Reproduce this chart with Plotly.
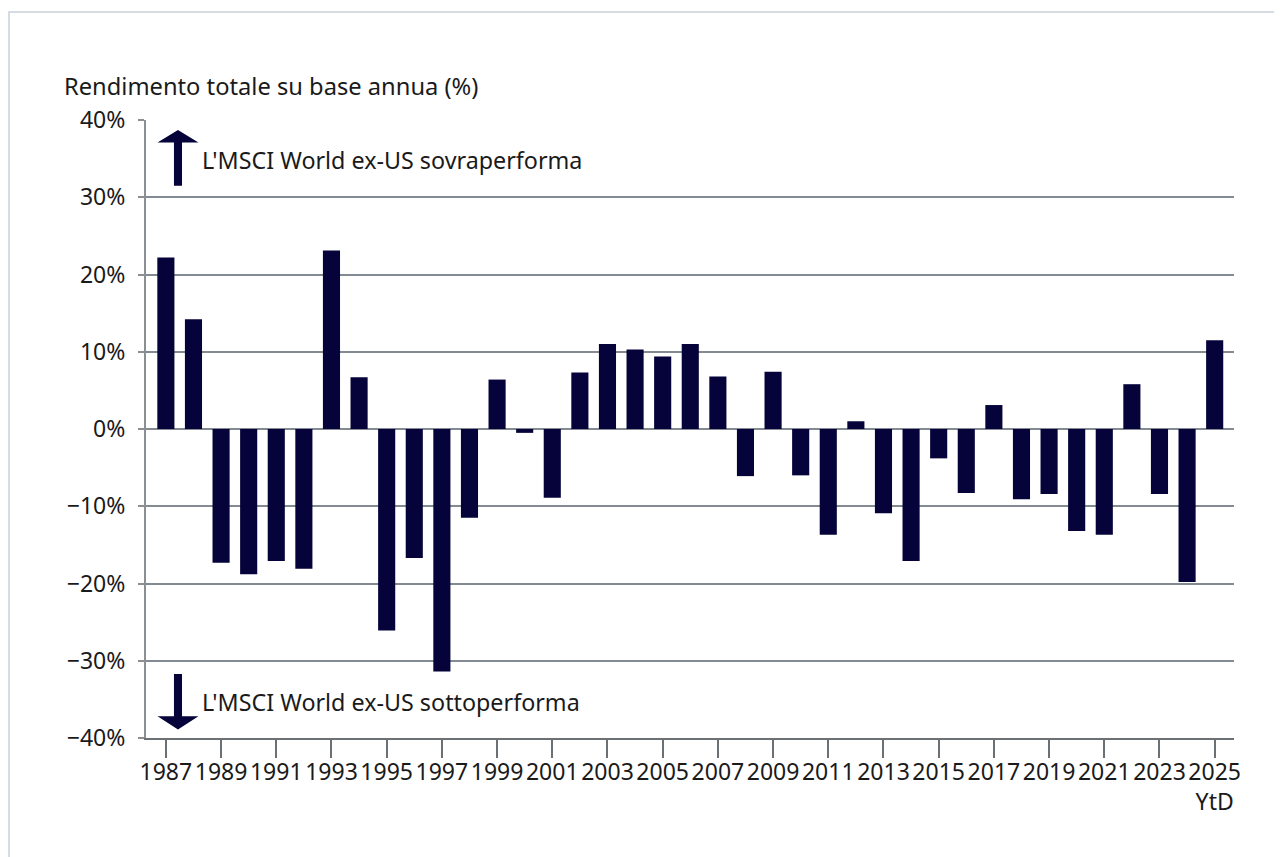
import plotly.graph_objects as go

years = list(range(1987, 2026))
values = [22.2, 14.2, -17.3, -18.8, -17.1, -18.1, 23.1, 6.7, -26.1, -16.7,
          -31.4, -11.5, 6.4, -0.5, -8.9, 7.3, 11.0, 10.3, 9.4, 11.0,
          6.8, -6.1, 7.4, -6.0, -13.7, 1.0, -10.9, -17.1, -3.8, -8.3,
          3.1, -9.1, -8.4, -13.2, -13.7, 5.8, -8.4, -19.8, 11.5]
tick_years = list(range(1987, 2026, 2))
tick_labels = [str(y) if y != 2025 else "2025<br>YtD" for y in tick_years]
y_ticks = [-40, -30, -20, -10, 0, 10, 20, 30, 40]
y_tick_labels = [("\u2212" if v < 0 else "") + f"{abs(v)}%" for v in y_ticks]

title_text = "Rendimento totale su base annua (%)"
up_text = "L'MSCI World ex-US sovraperforma"
down_text = "L'MSCI World ex-US sottoperforma"

NAVY = "#050339"
GRID = "#838a91"
FONT = "Noto Sans"
FS = 23

fig = go.Figure()
fig.add_trace(go.Bar(x=years, y=values, width=0.62, marker=dict(color=NAVY, line=dict(width=0)),
                     showlegend=False, hoverinfo="x+y"))

def arrow_path(xc, shaft_half, head_half, y_tail, y_base, y_tip):
    return (f"M{xc-shaft_half},{y_tail} L{xc-shaft_half},{y_base} L{xc-head_half},{y_base} "
            f"L{xc},{y_tip} L{xc+head_half},{y_base} L{xc+shaft_half},{y_base} "
            f"L{xc+shaft_half},{y_tail} Z")

shapes = [
    dict(type="path", xref="paper", yref="y",
         path=arrow_path(0.0294, 0.0037, 0.0188, 31.5, 37.1, 38.7),
         fillcolor=NAVY, line=dict(width=0)),
    dict(type="path", xref="paper", yref="y",
         path=arrow_path(0.0294, 0.0037, 0.0188, -31.7, -37.2, -38.9),
         fillcolor=NAVY, line=dict(width=0)),
    dict(type="rect", xref="paper", yref="paper", x0=-0.1259, x1=1.2, y0=-0.3, y1=1.1748,
         line=dict(color="#d6dce1", width=2), fillcolor="rgba(0,0,0,0)", layer="below"),
]

annotations = [
    dict(text=title_text, xref="paper", yref="paper", x=-0.0772, y=1.055,
         xanchor="left", yanchor="middle", showarrow=False, font=dict(size=23.7, color="#1a1a1a")),
    dict(text=up_text, xref="paper", yref="y", x=0.0496, y=34.8,
         xanchor="left", yanchor="middle", showarrow=False, font=dict(size=23.3, color="#1a1a1a")),
    dict(text=down_text, xref="paper", yref="y", x=0.0496, y=-35.4,
         xanchor="left", yanchor="middle", showarrow=False, font=dict(size=23.3, color="#1a1a1a")),
]

fig.update_layout(
    width=1274, height=849,
    margin=dict(l=138, r=48, t=112, b=119),
    paper_bgcolor="white", plot_bgcolor="white",
    font=dict(family=FONT, size=FS, color="#1a1a1a"),
    shapes=shapes, annotations=annotations,
    xaxis=dict(range=[1986.28, 2025.7], tickmode="array", tickvals=tick_years, ticktext=tick_labels,
               ticks="outside", ticklen=18, tickcolor="#6b7075", tickwidth=1.5,
               showgrid=False, showline=True, linecolor="#6b7075", linewidth=2,
               zeroline=False, tickangle=0, fixedrange=True, ticklabelstandoff=-6),
    yaxis=dict(range=[-40, 40], tickmode="array", tickvals=y_ticks, ticktext=y_tick_labels,
               ticks="outside", ticklen=6, tickcolor="#8a8f94", tickwidth=1.5,
               showgrid=True, gridcolor=GRID, gridwidth=1.5,
               zeroline=True, zerolinecolor=GRID, zerolinewidth=1.5,
               showline=True, linecolor="#8a8f94", linewidth=2, ticklabelstandoff=8,
               fixedrange=True),
)

fig.write_html("out.html")
